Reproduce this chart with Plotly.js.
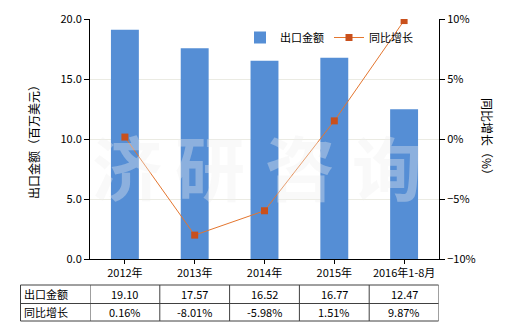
<!DOCTYPE html>
<html><head><meta charset="utf-8">
<script src="https://cdn.plot.ly/plotly-3.0.1.min.js"></script>
<style>body{margin:0;padding:0;background:#fff}#chart{width:520px;height:330px}</style>
</head><body><div id="chart"></div>
<script>
const categories = ['2012年','2013年','2014年','2015年','2016年1-8月'];
const exportValues = [19.10, 17.57, 16.52, 16.77, 12.47];
const growthValues = [0.16, -8.01, -5.98, 1.51, 9.87];
const exportLabels = ['19.10','17.57','16.52','16.77','12.47'];
const growthLabels = ['0.16%','-8.01%','-5.98%','1.51%','9.87%'];
const rowNames = ['出口金额','同比增长'];
const watermark = ['济','研','咨','询'];

const FONT = '"Noto Sans CJK SC", "Liberation Sans", sans-serif';
const plotTop = 19, plotBottom = 259, plotH = 240, plotL = 90, plotW = 349;
const py = p => (plotBottom - p) / plotH;
const px = p => (p - plotL) / plotW;

const traces = [
  {type:'bar', name:'出口金额', x:categories, y:exportValues, marker:{color:'#558ed5'}, width:0.4, yaxis:'y'},
  {type:'scatter', mode:'lines+markers', name:'同比增长', x:categories, y:growthValues, yaxis:'y2',
   line:{color:'#e4762f', width:1}, marker:{symbol:'square', size:7, color:'#c9501c'}}
];

const shapes = [];
const annotations = [];
const lineStyle = {color:'#404040', width:1};
const rowY = [285, 303.5, 321];
rowY.forEach(p => shapes.push({type:'line', xref:'paper', yref:'paper', x0:px(20.5), x1:px(438.5), y0:py(p), y1:py(p), line:lineStyle}));
shapes.push({type:'line', xref:'paper', yref:'paper', x0:px(20.5), x1:px(20.5), y0:py(285), y1:py(321), line:lineStyle});
for (let i = 0; i <= categories.length; i++) {
  shapes.push({type:'line', xref:'x', yref:'paper', x0:i-0.5, x1:i-0.5, y0:py(285), y1:py(321), line:lineStyle});
}
rowNames.forEach((n, r) => annotations.push({xref:'paper', yref:'paper', x:px(22), y:py((rowY[r]+rowY[r+1])/2), text:n, showarrow:false, xanchor:'left', yanchor:'middle', font:{size:11, color:'#000', family:FONT}}));
categories.forEach((c, i) => {
  annotations.push({xref:'x', yref:'paper', x:i, y:py((rowY[0]+rowY[1])/2), text:exportLabels[i], showarrow:false, yanchor:'middle', font:{size:11, color:'#000', family:FONT}});
  annotations.push({xref:'x', yref:'paper', x:i, y:py((rowY[1]+rowY[2])/2), text:growthLabels[i], showarrow:false, yanchor:'middle', font:{size:11, color:'#000', family:FONT}});
});
const wmX = [127, 210, 300, 387];
watermark.forEach((ch, i) => annotations.push({xref:'paper', yref:'paper', x:px(wmX[i]), y:py(165), text:'<b>'+ch+'</b>', showarrow:false, xanchor:'center', yanchor:'middle', font:{size:70, color:'rgba(238,238,238,0.36)', family:FONT}}));
annotations.push({xref:'paper', yref:'paper', x:px(488), y:py(139), text:'同比增长（%）', textangle:90, showarrow:false, xanchor:'center', yanchor:'middle', font:{size:12, color:'#000', family:FONT}});

const layout = {
  width:520, height:330,
  margin:{l:plotL, r:520-plotL-plotW, t:plotTop, b:330-plotBottom},
  paper_bgcolor:'#fff', plot_bgcolor:'#fff',
  font:{family:FONT, size:11, color:'#000'},
  showlegend:true,
  legend:{orientation:'h', x:px(240), y:py(23), xanchor:'left', yanchor:'top', bgcolor:'rgba(0,0,0,0)', font:{size:11, family:FONT}, tracegroupgap:0},
  xaxis:{type:'category', range:[-0.5,4.5], showline:true, linecolor:'#000', linewidth:1, ticks:'outside', ticklen:4, tickcolor:'#000', showgrid:false, tickfont:{size:11, family:FONT}},
  yaxis:{range:[0,20], dtick:5, tickformat:'.1f', showline:true, linecolor:'#000', ticks:'outside', ticklen:5, tickcolor:'#000', gridcolor:'#ebebe3', zeroline:false, tickfont:{size:11, family:FONT},
         title:{text:'出口金额（百万美元）', font:{size:12, family:FONT}, standoff:18}},
  yaxis2:{overlaying:'y', side:'right', range:[-10,10], dtick:5, ticksuffix:'%', showline:true, linecolor:'#000', ticks:'outside', ticklen:5, tickcolor:'#000', showgrid:false, zeroline:false, tickfont:{size:11, family:FONT}},
  shapes:shapes, annotations:annotations, bargap:0.6
};
Plotly.newPlot('chart', traces, layout, {displayModeBar:false, staticPlot:true});
</script></body></html>
